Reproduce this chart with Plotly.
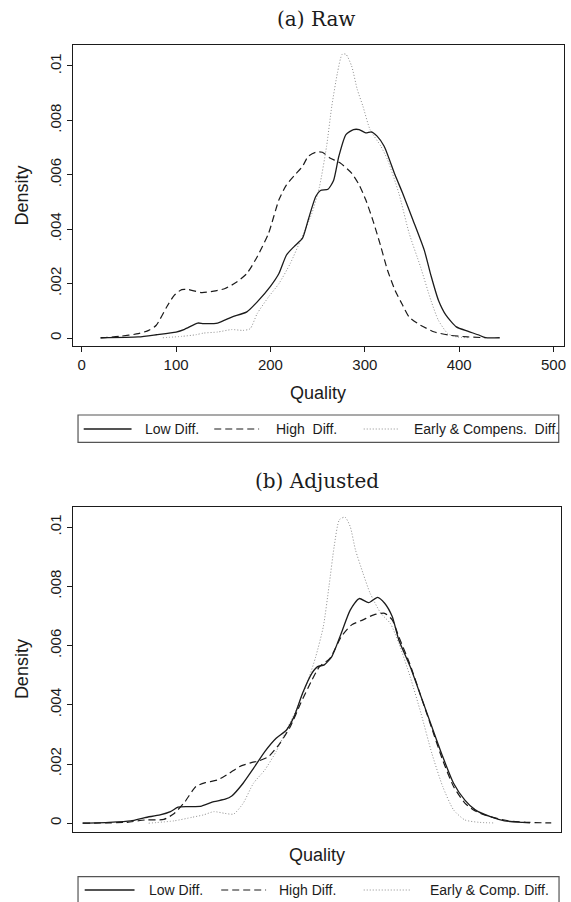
import plotly.graph_objects as go

W, H = 571, 902

# ---- (a) Raw: kernel density estimates of quality by group ----
raw_low_q = [20, 60, 79, 100, 109, 123, 129, 144, 159, 175, 186, 200, 209, 217, 225, 234, 240, 248,
             253, 261, 267, 272.5, 280, 288, 294, 301, 307, 313, 320.5, 332, 340, 351, 363, 370,
             378, 386, 397, 409, 420, 428, 443]
raw_low_d = [0.00001, 0.00004, 0.00012, 0.00022, 0.00032, 0.00055, 0.00053, 0.00055, 0.00077, 0.00096,
             0.00133, 0.0019, 0.00237, 0.00305, 0.00336, 0.00367, 0.00434, 0.0052, 0.00542, 0.00547,
             0.0058, 0.00668, 0.00748, 0.00766, 0.00766, 0.00754, 0.00758, 0.00742, 0.00705, 0.006,
             0.00533, 0.00434, 0.00323, 0.00231, 0.00139, 0.00084, 0.00041, 0.00025, 0.00012,
             0.00001, 0.00001]

raw_high_q = [20, 40, 60, 71, 79, 90, 98, 106, 113, 127, 140, 152, 163, 175, 186, 198, 209, 217, 226,
              234, 240, 248, 255, 263, 274, 286, 294, 301, 309, 317, 324, 332, 340, 347, 359, 374,
              390, 409, 428]
raw_high_d = [0.0, 0.00006, 0.00016, 0.00028, 0.00047, 0.00114, 0.00157, 0.00178, 0.00178, 0.00167,
              0.00172, 0.00182, 0.00203, 0.00237, 0.00299, 0.00385, 0.00508, 0.00563, 0.006, 0.00631,
              0.00668, 0.00683, 0.00683, 0.00662, 0.00643, 0.00606, 0.00563, 0.00508, 0.00428,
              0.00336, 0.0025, 0.00176, 0.00121, 0.00077, 0.00047, 0.00022, 0.0001, 0.00004, 0.00001]

raw_early_q = [86, 106, 121, 129, 144, 159, 171, 178.5, 186, 198, 209, 221, 232, 244, 252, 259.5, 265,
               271, 276, 280, 286, 292, 298, 305.6, 317, 324, 336, 347, 359, 370, 378, 388, 397, 409]
raw_early_d = [0.00001, 0.00006, 0.00012, 0.00018, 0.00022, 0.00031, 0.00028, 0.00034, 0.0009, 0.00151,
               0.002, 0.00274, 0.0036, 0.00459, 0.00557, 0.00705, 0.00852, 0.00975, 0.01043, 0.01043,
               0.01, 0.00914, 0.00852, 0.00766, 0.00705, 0.00656, 0.00533, 0.00385, 0.00262, 0.00139,
               0.00065, 0.00016, 0.00004, 0.00001]

# ---- (b) Adjusted ----
adj_low_q = [1, 29, 52, 67, 83, 94, 102, 113, 127, 140, 152, 159, 171, 182, 194, 206, 217, 225, 234,
             244, 250, 257, 265, 275, 284.5, 294, 304, 313.5, 321, 329, 336, 348, 359.5, 371, 382.5,
             394, 406, 417, 433, 448, 467, 475]
adj_low_d = [0.0, 0.00003, 0.00008, 0.00019, 0.00028, 0.00039, 0.00054, 0.00056, 0.00058, 0.00073,
             0.00081, 0.00092, 0.00135, 0.00185, 0.00242, 0.00287, 0.00315, 0.0036, 0.00439, 0.00507,
             0.00529, 0.00535, 0.00563, 0.00642, 0.0072, 0.00759, 0.00745, 0.00763, 0.00743, 0.00698,
             0.00619, 0.00529, 0.00428, 0.00326, 0.00225, 0.00135, 0.00078, 0.00045, 0.00022, 0.00008,
             0.00003, 0.00001]

adj_high_q = [1, 48, 67, 87, 98, 109.5, 121, 131, 144, 156, 167, 179, 188, 198, 210, 221, 232, 244,
              252, 263, 275, 286, 298, 309.5, 321, 329, 336, 348, 359.5, 371, 382.5, 394, 406, 417,
              433, 452, 471, 497.5]
adj_high_d = [0.0, 0.00003, 0.00011, 0.00013, 0.00033, 0.00073, 0.00124, 0.00137, 0.00146, 0.00168,
              0.00191, 0.00204, 0.00211, 0.00225, 0.0027, 0.00326, 0.00405, 0.00484, 0.00529, 0.00557,
              0.0063, 0.0067, 0.00687, 0.00704, 0.00709, 0.00687, 0.0063, 0.00535, 0.00428, 0.0032,
              0.00213, 0.00124, 0.00068, 0.00041, 0.00022, 0.00008, 0.00003, 0.00001]

adj_early_q = [71, 98, 117, 129, 140, 152, 161, 171, 182, 194, 206, 217, 229, 240, 248, 256, 262,
               267.5, 273, 279, 284.5, 290, 298, 305.6, 317, 327, 336, 348, 359.5, 371, 382.5, 394,
               406, 421, 436]
adj_early_d = [0.0, 0.00008, 0.0002, 0.00028, 0.00039, 0.00033, 0.00031, 0.00067, 0.00135, 0.0018,
               0.00242, 0.00315, 0.00394, 0.00484, 0.00563, 0.00664, 0.008, 0.00935, 0.01025, 0.01034,
               0.01002, 0.00924, 0.00845, 0.00777, 0.00709, 0.00675, 0.00608, 0.00495, 0.00371,
               0.00236, 0.00124, 0.00045, 0.00011, 0.00003, 0.00001]

y_tick_vals = [0, 0.002, 0.004, 0.006, 0.008, 0.01]
y_tick_text = ["0", ".002", ".004", ".006", ".008", ".01"]
x_tick_vals = [0, 100, 200, 300, 400, 500]
x_tick_text = ["0", "100", "200", "300", "400", "500"]

legend_top = ["Low Diff.", "High\u00a0 Diff.", "Early & Compens.\u00a0 Diff."]
legend_bottom = ["Low Diff.", "High Diff.", "Early & Comp. Diff."]

INK = "#1b1b1b"
DOT = "#8c8c8c"
styles = [
    dict(color=INK, width=1.3, dash="solid"),
    dict(color=INK, width=1.2, dash="7px,4px"),
    dict(color=DOT, width=1.0, dash="1px,2px"),
]


def px(x):
    return x / W


def py(y):
    return 1 - y / H


fig = go.Figure()

series_top = [(raw_low_q, raw_low_d), (raw_high_q, raw_high_d), (raw_early_q, raw_early_d)]
series_bot = [(adj_low_q, adj_low_d), (adj_high_q, adj_high_d), (adj_early_q, adj_early_d)]

# dotted series first so the solid/dashed lines sit on top
for order in (2, 1, 0):
    q, d = series_top[order]
    fig.add_trace(go.Scatter(x=q, y=d, mode="lines", xaxis="x", yaxis="y", showlegend=False,
                             line=dict(shape="spline", smoothing=0.6, **styles[order]),
                             hoverinfo="skip"))
for order in (2, 1, 0):
    q, d = series_bot[order]
    fig.add_trace(go.Scatter(x=q, y=d, mode="lines", xaxis="x2", yaxis="y2", showlegend=False,
                             line=dict(shape="spline", smoothing=0.6, **styles[order]),
                             hoverinfo="skip"))

axis_common = dict(showline=True, linecolor=INK, linewidth=1.3, mirror=True, showgrid=False,
                   zeroline=False, tickcolor=INK, tickwidth=1.2, ticklen=5,
                   tickfont=dict(family="Liberation Sans, Arial, sans-serif", size=15, color=INK))

fig.update_layout(
    width=W, height=H,
    margin=dict(l=0, r=0, t=0, b=0),
    paper_bgcolor="white", plot_bgcolor="white",
    xaxis=dict(domain=[px(73.3), px(565.7)], anchor="y", range=[-9.2, 510.8],
               ticks="outside", tickvals=x_tick_vals, ticktext=x_tick_text, **axis_common),
    yaxis=dict(domain=[py(346.3), py(45.3)], anchor="x", range=[-0.000305, 0.01076],
               ticks="outside", tickvals=y_tick_vals, ticktext=y_tick_text, tickangle=-90,
               **axis_common),
    xaxis2=dict(domain=[px(73.3), px(563.3)], anchor="y2", range=[-9.2, 508.2],
                ticks="", showticklabels=False, **axis_common),
    yaxis2=dict(domain=[py(831.7), py(507.3)], anchor="x2", range=[-0.000287, 0.010672],
                ticks="outside", tickvals=y_tick_vals, ticktext=y_tick_text, tickangle=-90,
                **axis_common),
)

sans = dict(family="Liberation Sans, Arial, sans-serif", color=INK)
serif = dict(family="DejaVu Serif, serif", color=INK, size=20)

annotations = [
    dict(text="(a) Raw", x=px(316.7), y=py(19), font=serif),
    dict(text="(b) Adjusted", x=px(318), y=py(481), font=serif),
    dict(text="Density", x=px(21.7), y=py(195.8), textangle=-90, font=dict(size=18, **sans)),
    dict(text="Density", x=px(21.7), y=py(669.5), textangle=-90, font=dict(size=18, **sans)),
    dict(text="Quality", x=px(319.5), y=py(393), font=dict(size=18, **sans)),
    dict(text="Quality", x=px(318.3), y=py(855), font=dict(size=18, **sans)),
]

shapes = []

# legend boxes drawn in paper space
def add_legend(top, bottom, left, right, samples, labels, text_x, yc):
    shapes.append(dict(type="rect", xref="paper", yref="paper", x0=px(left), x1=px(right),
                       y0=py(bottom), y1=py(top), line=dict(color="#555555", width=1.2),
                       fillcolor="white", layer="below"))
    for (x0, x1), st in zip(samples, styles):
        shapes.append(dict(type="line", xref="paper", yref="paper", x0=px(x0), x1=px(x1),
                           y0=py(yc), y1=py(yc),
                           line=dict(color=st["color"], width=st["width"], dash=st["dash"])))
    for lab, tx in zip(labels, text_x):
        annotations.append(dict(text=lab, x=px(tx), y=py(yc), xanchor="left",
                                font=dict(size=14, **sans)))


add_legend(415, 442.3, 78.3, 560.7, [(84, 132), (215, 260), (365, 400)], legend_top,
           [143.5, 274.5, 413.5], 429)
add_legend(876.7, 905, 78.3, 561, [(85, 135), (222, 267), (365, 413)], legend_bottom,
           [147.5, 277.5, 429.5], 890)

for a in annotations:
    a.setdefault("xref", "paper")
    a.setdefault("yref", "paper")
    a.setdefault("showarrow", False)
    a.setdefault("xanchor", "center")
    a.setdefault("yanchor", "middle")

fig.update_layout(annotations=annotations, shapes=shapes)

fig.write_html("out.html")
